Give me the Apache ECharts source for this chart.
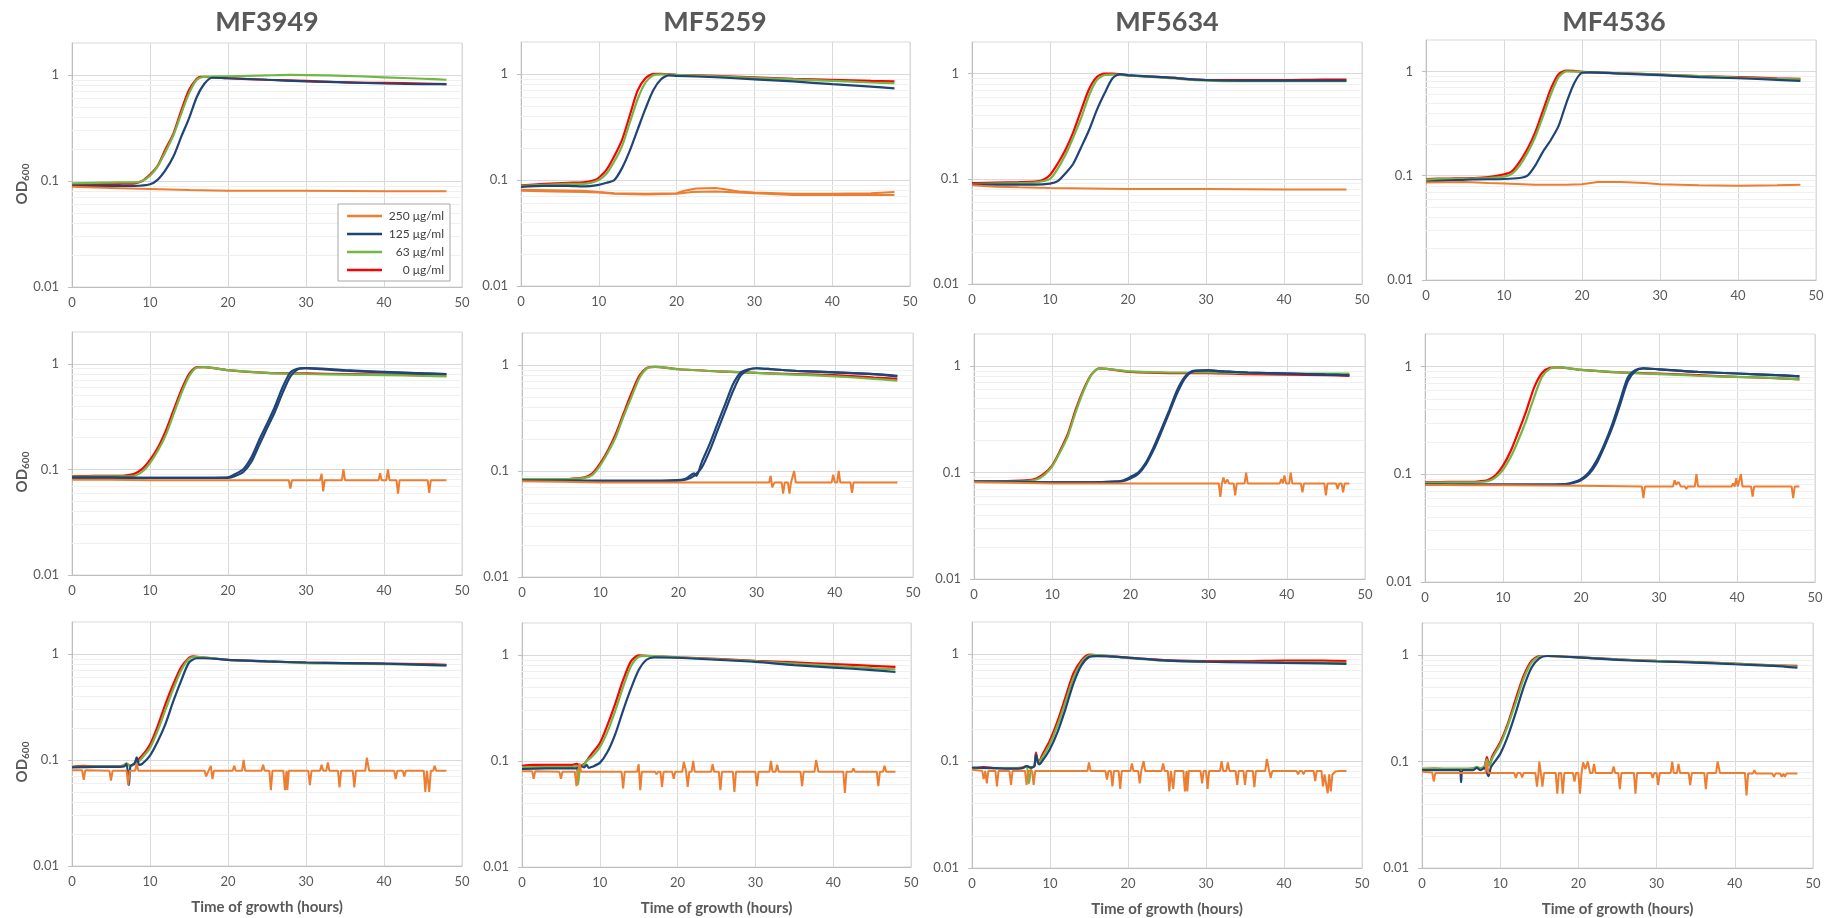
<!DOCTYPE html>
<html>
<head>
<meta charset="utf-8">
<script src="https://cdn.jsdelivr.net/npm/echarts@6/dist/echarts.min.js"></script>
<style>
html,body{margin:0;padding:0;background:#fff;}
#chart{width:1832px;height:918px;}
</style>
</head>
<body>
<div id="chart"></div>
<script>
// ---------------- labels / ticks ----------------
const strains = ['MF3949', 'MF5259', 'MF5634', 'MF4536'];
const concLabels = ['250 μg/ml', '125 μg/ml', ' 63 μg/ml', '  0 μg/ml'];
const xTicks = [0, 10, 20, 30, 40, 50];
const yTicks = [0.01, 0.1, 1];
const yMinorGrid = [0.02,0.03,0.04,0.05,0.06,0.07,0.08,0.09,0.2,0.3,0.4,0.5,0.6,0.7,0.8,0.9];
const xTitle = 'Time of growth (hours)';

// ---------------- row 1 ----------------
const mf3949_a_0   = [[0,0.093],[3,0.093],[6,0.094],[8,0.095],[9,0.1],[10,0.115],[11,0.14],[12,0.2],[13,0.28],[14,0.46],[15,0.72],[16,0.92],[16.5,0.96],[17,0.96],[20,0.93],[25,0.9],[30,0.88],[35,0.85],[40,0.84],[45,0.83],[48,0.82]];
const mf3949_a_63  = [[0,0.095],[3,0.096],[6,0.097],[8,0.097],[9,0.1],[10,0.112],[11,0.138],[12,0.19],[13,0.27],[14,0.43],[15,0.67],[16,0.9],[17,0.96],[20,0.97],[25,0.99],[28,1.0],[35,0.98],[40,0.95],[45,0.92],[48,0.9]];
const mf3949_a_125 = [[0,0.09],[3,0.09],[6,0.09],[8,0.09],[10,0.093],[11,0.103],[12,0.127],[13,0.17],[14,0.26],[15,0.39],[16,0.62],[17,0.83],[18,0.94],[20,0.93],[25,0.9],[30,0.87],[35,0.85],[40,0.83],[45,0.82],[48,0.82]];
const mf3949_a_250 = [[0,0.088],[5,0.086],[10,0.084],[15,0.082],[20,0.081],[30,0.081],[40,0.08],[48,0.08]];

const mf5259_a_0   = [[0,0.089],[3,0.092],[6,0.094],[8,0.095],[9.5,0.1],[10,0.105],[11,0.125],[12,0.168],[13,0.24],[14,0.41],[15,0.7],[16,0.91],[17,1.0],[18,1.0],[20,0.98],[25,0.96],[30,0.93],[35,0.9],[40,0.88],[45,0.86],[48,0.85]];
const mf5259_a_63  = [[0,0.088],[3,0.09],[6,0.092],[8,0.092],[10,0.1],[11,0.115],[12,0.15],[13,0.21],[14,0.35],[15,0.58],[16,0.83],[17,0.97],[18,0.99],[20,0.98],[25,0.95],[30,0.92],[35,0.89],[40,0.86],[45,0.83],[48,0.82]];
const mf5259_a_125 = [[0,0.086],[3,0.088],[6,0.088],[8,0.087],[10,0.09],[11,0.094],[12,0.1],[13,0.13],[14,0.19],[15,0.3],[16,0.47],[17,0.7],[18,0.89],[19,0.97],[20,0.96],[25,0.93],[30,0.89],[35,0.85],[40,0.8],[45,0.76],[48,0.73]];
const mf5259_a_250 = [[0,0.081],[4,0.08],[8,0.079],[10,0.077],[12,0.075],[16,0.074],[20,0.075],[21,0.079],[22.5,0.083],[25,0.084],[26,0.082],[28,0.078],[30,0.076],[35,0.074],[40,0.074],[45,0.075],[48,0.077]];
const mf5259_a_250b= [[0,0.079],[4,0.078],[8,0.077],[10,0.076],[12,0.074],[16,0.073],[20,0.074],[22,0.077],[25,0.078],[28,0.076],[30,0.075],[35,0.072],[40,0.072],[45,0.072],[48,0.072]];

const mf5634_a_0   = [[0,0.091],[3,0.092],[6,0.093],[8,0.094],[9,0.097],[10,0.109],[11,0.14],[12,0.19],[13,0.28],[14,0.45],[15,0.71],[16,0.93],[17,1.0],[18,1.0],[20,0.96],[25,0.92],[30,0.87],[35,0.87],[40,0.87],[45,0.88],[48,0.88]];
const mf5634_a_63  = [[0,0.089],[3,0.09],[6,0.091],[8,0.092],[10,0.1],[11,0.125],[12,0.17],[13,0.25],[14,0.38],[15,0.62],[16,0.87],[17,0.97],[18,0.98],[20,0.96],[25,0.91],[30,0.86],[35,0.85],[40,0.85],[45,0.85],[48,0.85]];
const mf5634_a_125 = [[0,0.088],[3,0.088],[6,0.088],[8,0.088],[10,0.09],[11,0.095],[12,0.113],[13,0.14],[14,0.2],[15,0.29],[16,0.45],[17,0.65],[18,0.9],[19,0.99],[20,0.97],[25,0.92],[30,0.87],[35,0.86],[40,0.86],[45,0.86],[48,0.86]];
const mf5634_a_250 = [[0,0.087],[3,0.084],[6,0.083],[10,0.082],[15,0.081],[20,0.08],[30,0.08],[40,0.079],[48,0.079]];

const mf4536_a_0   = [[0,0.093],[3,0.094],[6,0.095],[8,0.097],[10,0.103],[11,0.11],[12,0.136],[13,0.18],[14,0.26],[15,0.42],[16,0.68],[17,0.94],[18,1.02],[19,1.01],[20,0.99],[25,0.96],[30,0.93],[35,0.9],[40,0.88],[45,0.86],[48,0.85]];
const mf4536_a_63  = [[0,0.092],[3,0.093],[6,0.094],[8,0.095],[10,0.098],[11,0.104],[12,0.125],[13,0.165],[14,0.235],[15,0.37],[16,0.6],[17,0.88],[18,1.0],[20,0.99],[25,0.96],[30,0.93],[35,0.9],[40,0.87],[45,0.85],[48,0.84]];
const mf4536_a_125 = [[0,0.088],[3,0.09],[6,0.092],[10,0.093],[12,0.095],[13,0.1],[14,0.125],[15,0.17],[16,0.22],[17,0.3],[18,0.5],[19,0.77],[20,0.97],[21,0.98],[25,0.95],[30,0.92],[35,0.88],[40,0.86],[45,0.83],[48,0.81]];
const mf4536_a_250 = [[0,0.086],[5,0.087],[8,0.085],[10,0.084],[14,0.082],[18,0.082],[20,0.083],[22,0.087],[25,0.087],[28,0.085],[30,0.083],[35,0.081],[40,0.08],[45,0.081],[48,0.082]];

// ---------------- row 2 ----------------
const mf3949_b_0   = [[0,0.086],[3,0.087],[6,0.087],[7,0.088],[8,0.091],[9,0.101],[10,0.123],[11,0.16],[12,0.23],[13,0.36],[14,0.56],[15,0.8],[16,0.93],[17,0.93],[20,0.87],[25,0.82],[30,0.81],[35,0.8],[40,0.79],[45,0.78],[48,0.77]];
const mf3949_b_63  = [[0,0.085],[3,0.086],[6,0.086],[8,0.087],[9,0.095],[10,0.115],[11,0.15],[12,0.21],[13,0.33],[14,0.52],[15,0.76],[16,0.92],[17,0.93],[20,0.87],[25,0.82],[30,0.8],[35,0.79],[40,0.78],[45,0.77],[48,0.76]];
const mf3949_b_125 = [[0,0.084],[5,0.084],[10,0.083],[15,0.083],[20,0.084],[21,0.091],[22,0.101],[23,0.13],[24,0.19],[25,0.27],[26,0.39],[27,0.6],[28,0.83],[29,0.9],[30,0.91],[32,0.89],[35,0.86],[40,0.83],[45,0.81],[48,0.8]];
const mf3949_b_125b= [[0,0.083],[5,0.083],[10,0.083],[15,0.083],[20,0.083],[21,0.087],[22,0.095],[23,0.118],[24,0.17],[25,0.245],[26,0.35],[27,0.53],[28,0.76],[29,0.89],[30,0.91],[32,0.9],[35,0.87],[40,0.84],[45,0.81],[48,0.8]];
const mf3949_b_250 = [[0,0.08],[5,0.08],[10,0.079],[20,0.079],[27.8,0.079],[28,0.066],[28.2,0.079],[31.8,0.079],[32,0.091],[32.2,0.062],[32.4,0.079],[34.6,0.079],[34.8,0.1],[35,0.079],[39.3,0.079],[39.5,0.092],[39.7,0.079],[40.3,0.079],[40.5,0.1],[40.7,0.079],[41.6,0.079],[41.8,0.059],[42,0.079],[45.6,0.079],[45.8,0.06],[46,0.079],[48,0.079]];

const mf5259_b_0   = [[0,0.083],[3,0.083],[6,0.084],[7,0.085],[8,0.087],[9,0.095],[10,0.118],[11,0.157],[12,0.225],[13,0.35],[14,0.54],[15,0.79],[16,0.94],[17,0.96],[20,0.91],[25,0.87],[30,0.84],[35,0.82],[40,0.8],[45,0.76],[48,0.74]];
const mf5259_b_63  = [[0,0.084],[3,0.084],[6,0.084],[8,0.086],[9,0.092],[10,0.113],[11,0.15],[12,0.21],[13,0.33],[14,0.5],[15,0.75],[16,0.93],[17,0.96],[20,0.91],[25,0.87],[30,0.84],[35,0.81],[40,0.78],[45,0.74],[48,0.71]];
const mf5259_b_125 = [[0,0.081],[5,0.081],[10,0.081],[15,0.081],[20,0.082],[21,0.085],[22,0.095],[22.3,0.09],[23,0.122],[24,0.18],[25,0.28],[26,0.43],[27,0.66],[28,0.85],[29,0.91],[30,0.93],[32,0.91],[35,0.88],[40,0.85],[45,0.82],[48,0.78]];
const mf5259_b_125b= [[0,0.081],[5,0.081],[10,0.08],[15,0.08],[20,0.081],[21,0.083],[22,0.09],[23,0.108],[24,0.155],[25,0.24],[26,0.37],[27,0.57],[28,0.8],[29,0.9],[30,0.93],[32,0.91],[35,0.88],[40,0.85],[45,0.82],[48,0.79]];
const mf5259_b_250 = [[0,0.08],[5,0.079],[10,0.078],[20,0.078],[31.6,0.078],[31.8,0.09],[32,0.07],[32.3,0.078],[33.2,0.078],[33.4,0.061],[33.6,0.078],[34,0.078],[34.2,0.061],[34.4,0.078],[34.6,0.078],[34.8,0.1],[35,0.078],[39.6,0.078],[39.8,0.092],[40,0.078],[40.3,0.078],[40.5,0.1],[40.7,0.078],[42,0.078],[42.2,0.062],[42.4,0.078],[48,0.078]];

const mf5634_b_0   = [[0,0.083],[3,0.083],[6,0.084],[7,0.085],[8,0.088],[9,0.098],[10,0.117],[11,0.16],[12,0.23],[13,0.39],[14,0.6],[15,0.83],[16,0.95],[17,0.94],[20,0.88],[25,0.86],[30,0.86],[35,0.84],[40,0.83],[45,0.82],[48,0.81]];
const mf5634_b_63  = [[0,0.083],[3,0.083],[6,0.083],[8,0.086],[9,0.095],[10,0.114],[11,0.155],[12,0.22],[13,0.37],[14,0.58],[15,0.82],[16,0.95],[17,0.94],[20,0.89],[25,0.87],[30,0.87],[35,0.86],[40,0.85],[45,0.85],[48,0.85]];
const mf5634_b_125 = [[0,0.082],[5,0.082],[10,0.081],[15,0.081],[18,0.082],[19,0.084],[20,0.091],[21,0.1],[22,0.125],[23,0.175],[24,0.26],[25,0.39],[26,0.6],[27,0.8],[28,0.9],[30,0.91],[32,0.89],[35,0.87],[40,0.85],[45,0.83],[48,0.82]];
const mf5634_b_125b= [[0,0.082],[5,0.082],[10,0.081],[15,0.081],[18,0.082],[19,0.083],[20,0.088],[21,0.097],[22,0.12],[23,0.165],[24,0.245],[25,0.37],[26,0.56],[27,0.77],[28,0.89],[30,0.91],[32,0.89],[35,0.87],[40,0.85],[45,0.83],[48,0.82]];
const mf5634_b_250 = [[0,0.081],[5,0.08],[10,0.079],[20,0.079],[31.3,0.079],[31.5,0.059],[31.7,0.079],[31.9,0.09],[32.1,0.079],[32.4,0.086],[32.6,0.079],[33.2,0.079],[33.4,0.061],[33.6,0.079],[34.6,0.079],[34.8,0.1],[35,0.079],[39.1,0.079],[39.3,0.087],[39.5,0.079],[39.7,0.094],[39.9,0.079],[40.3,0.079],[40.5,0.1],[40.7,0.079],[41.8,0.079],[42,0.065],[42.2,0.079],[44.8,0.079],[45,0.061],[45.2,0.079],[46.3,0.079],[46.5,0.07],[46.7,0.079],[47,0.079],[47.2,0.065],[47.4,0.079],[48,0.079]];

const mf4536_b_0   = [[0,0.084],[3,0.085],[6,0.085],[7,0.086],[8,0.088],[9,0.097],[10,0.12],[11,0.165],[12,0.25],[13,0.39],[14,0.64],[15,0.87],[16,0.97],[17,0.98],[20,0.93],[25,0.88],[30,0.86],[35,0.83],[40,0.8],[45,0.78],[48,0.76]];
const mf4536_b_63  = [[0,0.083],[3,0.084],[6,0.084],[8,0.086],[9,0.093],[10,0.11],[11,0.145],[12,0.21],[13,0.32],[14,0.52],[15,0.8],[16,0.95],[17,0.98],[20,0.93],[25,0.88],[30,0.85],[35,0.82],[40,0.8],[45,0.78],[48,0.76]];
const mf4536_b_125 = [[0,0.081],[5,0.08],[10,0.08],[15,0.08],[18,0.081],[19,0.084],[20,0.09],[21,0.104],[22,0.134],[23,0.19],[24,0.29],[25,0.48],[26,0.79],[27,0.93],[28,0.96],[30,0.94],[32,0.92],[35,0.89],[40,0.86],[45,0.83],[48,0.81]];
const mf4536_b_125b= [[0,0.081],[5,0.08],[10,0.08],[15,0.08],[18,0.081],[19,0.083],[20,0.088],[21,0.1],[22,0.126],[23,0.18],[24,0.27],[25,0.44],[26,0.73],[27,0.91],[28,0.96],[30,0.94],[32,0.92],[35,0.89],[40,0.86],[45,0.83],[48,0.81]];
const mf4536_b_250 = [[0,0.08],[5,0.079],[10,0.079],[20,0.078],[27.8,0.077],[28,0.06],[28.2,0.077],[31.8,0.077],[32,0.088],[32.2,0.08],[32.5,0.085],[32.8,0.077],[33.3,0.077],[33.5,0.073],[33.7,0.077],[34.6,0.077],[34.8,0.1],[35,0.077],[39.3,0.077],[39.5,0.082],[39.7,0.077],[39.9,0.092],[40.1,0.077],[40.3,0.077],[40.5,0.1],[40.7,0.077],[41.8,0.077],[42,0.062],[42.2,0.077],[47,0.077],[47.2,0.06],[47.4,0.077],[48,0.077]];

// ---------------- row 3 ----------------
const mf3949_c_0   = [[0,0.086],[1.5,0.088],[3,0.087],[5,0.087],[6.5,0.088],[7,0.092],[7.5,0.088],[8,0.093],[9,0.11],[10,0.14],[11,0.21],[12,0.34],[13,0.52],[14,0.75],[15,0.92],[15.5,0.95],[16,0.94],[20,0.88],[25,0.85],[30,0.83],[35,0.82],[40,0.81],[45,0.8],[48,0.79]];
const mf3949_c_63  = [[0,0.086],[3,0.087],[5,0.087],[6.5,0.088],[7,0.093],[7.5,0.087],[8,0.092],[8.5,0.096],[9,0.105],[10,0.13],[11,0.19],[12,0.3],[13,0.47],[14,0.7],[15,0.9],[16,0.94],[20,0.88],[25,0.85],[30,0.82],[35,0.81],[40,0.8],[45,0.79],[48,0.78]];
const mf3949_c_125 = [[0,0.085],[3,0.086],[5,0.086],[6.7,0.087],[7,0.092],[7.3,0.058],[7.5,0.088],[8,0.092],[8.3,0.106],[8.6,0.09],[9,0.092],[10,0.11],[11,0.15],[12,0.22],[13,0.36],[14,0.56],[15,0.83],[16,0.91],[17,0.91],[20,0.88],[25,0.85],[30,0.83],[35,0.82],[40,0.81],[45,0.79],[48,0.78]];
const mf3949_c_250 = [[0,0.08],[1.3,0.08],[1.5,0.065],[1.7,0.08],[4.8,0.079],[5,0.064],[5.2,0.079],[7,0.079],[7.2,0.058],[7.4,0.079],[8.1,0.079],[8.3,0.093],[8.5,0.079],[17,0.079],[17.2,0.07],[17.5,0.079],[17.8,0.088],[18,0.066],[18.2,0.079],[20.6,0.079],[20.8,0.088],[21,0.079],[21.8,0.079],[22,0.1],[22.2,0.079],[24.3,0.079],[24.5,0.09],[24.7,0.079],[25.3,0.079],[25.5,0.052],[25.7,0.079],[27.1,0.079],[27.3,0.052],[27.5,0.079],[27.6,0.052],[27.8,0.079],[30.3,0.079],[30.5,0.058],[30.7,0.079],[31.8,0.079],[32,0.09],[32.2,0.079],[32.6,0.079],[32.8,0.095],[33,0.079],[34.1,0.079],[34.3,0.055],[34.5,0.079],[36,0.079],[36.2,0.055],[36.4,0.079],[37.6,0.079],[37.8,0.105],[38.1,0.079],[41.3,0.079],[41.5,0.066],[41.7,0.079],[42.4,0.079],[42.6,0.07],[42.8,0.079],[45.1,0.079],[45.3,0.05],[45.5,0.079],[45.6,0.079],[45.8,0.05],[46,0.079],[46.3,0.079],[46.5,0.088],[46.7,0.079],[48,0.079]];

const mf5259_c_0   = [[0,0.09],[1.5,0.092],[3,0.092],[5,0.092],[6.5,0.092],[7,0.094],[7.5,0.09],[8,0.094],[8.3,0.1],[9,0.118],[10,0.147],[11,0.22],[12,0.35],[13,0.58],[14,0.87],[15,0.99],[16,0.98],[20,0.95],[25,0.92],[30,0.88],[35,0.85],[40,0.82],[45,0.79],[48,0.77]];
const mf5259_c_63  = [[0,0.087],[3,0.088],[5,0.088],[6.5,0.088],[7,0.09],[7.2,0.06],[7.5,0.088],[8,0.092],[8.3,0.1],[9,0.11],[10,0.135],[11,0.19],[12,0.3],[13,0.5],[14,0.78],[15,0.96],[16,0.98],[20,0.95],[25,0.91],[30,0.87],[35,0.83],[40,0.79],[45,0.75],[48,0.73]];
const mf5259_c_125 = [[0,0.084],[3,0.085],[5,0.085],[7,0.085],[7.5,0.09],[8,0.087],[8.3,0.092],[8.6,0.086],[9,0.088],[10,0.096],[11,0.122],[12,0.18],[13,0.3],[14,0.48],[15,0.72],[16,0.9],[17,0.95],[20,0.94],[25,0.9],[30,0.86],[35,0.8],[40,0.76],[45,0.72],[48,0.69]];
const mf5259_c_250 = [[0,0.08],[1.3,0.08],[1.5,0.068],[1.7,0.08],[4.8,0.079],[5,0.068],[5.2,0.079],[6.8,0.079],[7,0.058],[7.2,0.079],[7.4,0.095],[7.6,0.079],[12.8,0.079],[13,0.055],[13.2,0.079],[14.8,0.079],[15,0.093],[15.2,0.053],[15.4,0.079],[17.1,0.079],[17.3,0.075],[17.5,0.079],[17.8,0.079],[18,0.057],[18.2,0.079],[19.3,0.079],[19.5,0.068],[19.7,0.079],[20.6,0.079],[20.8,0.098],[21.1,0.079],[21.3,0.057],[21.5,0.079],[21.8,0.079],[22,0.1],[22.2,0.079],[24.3,0.079],[24.5,0.093],[24.7,0.079],[25.3,0.079],[25.5,0.053],[25.7,0.079],[27.1,0.079],[27.3,0.051],[27.5,0.079],[30,0.079],[30.2,0.058],[30.4,0.079],[31.8,0.079],[32,0.1],[32.2,0.079],[32.6,0.079],[32.8,0.092],[33,0.079],[35.8,0.079],[36,0.058],[36.2,0.079],[37.6,0.079],[37.8,0.102],[38.1,0.079],[41.3,0.079],[41.5,0.05],[41.7,0.079],[42.4,0.079],[42.6,0.085],[42.8,0.079],[45.6,0.079],[45.8,0.058],[46,0.079],[46.4,0.079],[46.6,0.09],[46.8,0.079],[48,0.079]];

const mf5634_c_0   = [[0,0.085],[1.5,0.088],[3,0.086],[5,0.086],[6.5,0.087],[7,0.09],[7.5,0.087],[8,0.09],[8.2,0.12],[8.5,0.095],[9,0.114],[10,0.157],[11,0.24],[12,0.4],[13,0.66],[14,0.87],[15,0.99],[16,0.98],[20,0.93],[25,0.88],[30,0.86],[35,0.86],[40,0.87],[45,0.87],[48,0.86]];
const mf5634_c_63  = [[0,0.086],[3,0.086],[5,0.086],[6.5,0.086],[7,0.09],[7.3,0.062],[7.6,0.087],[8,0.09],[8.2,0.115],[8.5,0.094],[9,0.108],[10,0.145],[11,0.22],[12,0.36],[13,0.6],[14,0.83],[15,0.97],[16,0.98],[20,0.92],[25,0.87],[30,0.85],[35,0.85],[40,0.84],[45,0.84],[48,0.83]];
const mf5634_c_125 = [[0,0.087],[3,0.086],[5,0.085],[6.5,0.086],[7,0.09],[7.5,0.087],[8,0.09],[8.2,0.115],[8.6,0.093],[9,0.1],[10,0.13],[11,0.19],[12,0.31],[13,0.53],[14,0.78],[15,0.94],[16,0.96],[20,0.93],[25,0.87],[30,0.85],[35,0.84],[40,0.83],[45,0.82],[48,0.81]];
const mf5634_c_250 = [[0,0.083],[1.3,0.081],[1.5,0.068],[1.7,0.081],[1.9,0.062],[2.1,0.081],[3,0.081],[3.2,0.058],[3.4,0.081],[4.8,0.081],[5,0.06],[5.2,0.081],[6.8,0.081],[7,0.06],[7.2,0.081],[7.7,0.081],[7.9,0.06],[8.1,0.081],[14.8,0.081],[15,0.097],[15.2,0.081],[17.1,0.081],[17.3,0.067],[17.5,0.081],[17.8,0.081],[18,0.058],[18.2,0.081],[18.8,0.081],[19,0.055],[19.2,0.081],[20.3,0.081],[20.5,0.095],[20.7,0.081],[21.3,0.081],[21.5,0.062],[21.7,0.081],[21.8,0.081],[22,0.1],[22.2,0.081],[24.3,0.081],[24.5,0.095],[24.7,0.081],[25.1,0.081],[25.3,0.052],[25.5,0.081],[25.6,0.081],[25.8,0.055],[26,0.081],[27.1,0.081],[27.3,0.052],[27.5,0.081],[27.6,0.052],[27.8,0.081],[29.3,0.081],[29.5,0.062],[29.7,0.081],[30,0.081],[30.2,0.055],[30.4,0.081],[31.8,0.081],[32,0.1],[32.2,0.081],[32.6,0.081],[32.8,0.097],[33,0.081],[33.8,0.081],[34,0.06],[34.2,0.081],[34.8,0.081],[35,0.06],[35.2,0.081],[36,0.081],[36.2,0.057],[36.4,0.081],[37.6,0.081],[37.8,0.105],[38.1,0.081],[38.3,0.07],[38.5,0.081],[41.6,0.081],[41.8,0.075],[42,0.081],[42.3,0.081],[42.5,0.075],[42.7,0.081],[43.8,0.081],[44,0.065],[44.2,0.081],[44.8,0.081],[45,0.058],[45.2,0.075],[45.6,0.05],[45.8,0.075],[46,0.052],[46.2,0.075],[46.6,0.08],[47,0.081],[48,0.081]];

const mf4536_c_0   = [[0,0.085],[1.5,0.086],[3,0.085],[5,0.085],[6.5,0.086],[7,0.088],[7.5,0.086],[8,0.09],[8.3,0.11],[8.6,0.092],[9,0.113],[10,0.152],[11,0.23],[12,0.39],[13,0.64],[14,0.88],[15,0.98],[16,0.98],[20,0.95],[25,0.91],[30,0.88],[35,0.86],[40,0.83],[45,0.8],[48,0.79]];
const mf4536_c_63  = [[0,0.086],[3,0.086],[5,0.086],[6.5,0.086],[7,0.089],[7.5,0.086],[8,0.09],[8.3,0.105],[8.6,0.092],[9,0.108],[10,0.145],[11,0.22],[12,0.36],[13,0.6],[14,0.85],[15,0.97],[16,0.98],[20,0.95],[25,0.91],[30,0.88],[35,0.86],[40,0.83],[45,0.8],[48,0.78]];
const mf4536_c_125 = [[0,0.083],[3,0.083],[4.8,0.083],[5,0.064],[5.2,0.083],[6.5,0.083],[7,0.087],[7.5,0.083],[8,0.087],[8.5,0.073],[8.8,0.088],[9,0.093],[10,0.118],[11,0.175],[12,0.29],[13,0.5],[14,0.76],[15,0.93],[16,0.98],[20,0.95],[25,0.9],[30,0.87],[35,0.85],[40,0.82],[45,0.79],[48,0.76]];
const mf4536_c_250 = [[0,0.08],[1.3,0.079],[1.5,0.065],[1.7,0.078],[8.1,0.078],[8.3,0.1],[8.5,0.078],[11.8,0.078],[12,0.07],[12.2,0.078],[12.6,0.078],[12.8,0.071],[13,0.078],[14.5,0.078],[14.7,0.058],[14.9,0.078],[15,0.1],[15.2,0.078],[15.4,0.058],[15.6,0.078],[17.1,0.078],[17.3,0.05],[17.5,0.078],[17.8,0.078],[18,0.05],[18.2,0.078],[19.3,0.078],[19.5,0.065],[19.7,0.078],[20,0.078],[20.2,0.05],[20.4,0.078],[20.6,0.098],[20.9,0.085],[21.2,0.1],[21.5,0.078],[21.8,0.078],[22,0.095],[22.2,0.078],[24.3,0.078],[24.5,0.09],[24.7,0.078],[25.1,0.078],[25.3,0.055],[25.5,0.078],[27.1,0.078],[27.3,0.05],[27.5,0.078],[29.3,0.078],[29.5,0.07],[29.7,0.078],[30,0.078],[30.2,0.06],[30.4,0.078],[31.8,0.078],[32,0.1],[32.2,0.078],[32.6,0.078],[32.8,0.095],[33,0.078],[34.1,0.078],[34.3,0.06],[34.5,0.078],[36.1,0.078],[36.3,0.055],[36.5,0.078],[37.6,0.078],[37.8,0.1],[38.1,0.078],[41.3,0.078],[41.5,0.048],[41.7,0.077],[42.3,0.077],[42.5,0.083],[42.7,0.077],[44.8,0.077],[45,0.072],[45.2,0.077],[45.8,0.077],[46,0.072],[46.2,0.077],[46.4,0.072],[46.6,0.077],[48,0.077]];

// ---------------- panel table (built from the arrays) ----------------
const panels = [
  [
    {c0:[mf3949_a_0], c63:[mf3949_a_63], c125:[mf3949_a_125], c250:[mf3949_a_250]},
    {c0:[mf5259_a_0], c63:[mf5259_a_63], c125:[mf5259_a_125], c250:[mf5259_a_250, mf5259_a_250b]},
    {c0:[mf5634_a_0], c63:[mf5634_a_63], c125:[mf5634_a_125], c250:[mf5634_a_250]},
    {c0:[mf4536_a_0], c63:[mf4536_a_63], c125:[mf4536_a_125], c250:[mf4536_a_250]}
  ],
  [
    {c0:[mf3949_b_0], c63:[mf3949_b_63], c125:[mf3949_b_125, mf3949_b_125b], c250:[mf3949_b_250]},
    {c0:[mf5259_b_0], c63:[mf5259_b_63], c125:[mf5259_b_125, mf5259_b_125b], c250:[mf5259_b_250]},
    {c0:[mf5634_b_0], c63:[mf5634_b_63], c125:[mf5634_b_125, mf5634_b_125b], c250:[mf5634_b_250]},
    {c0:[mf4536_b_0], c63:[mf4536_b_63], c125:[mf4536_b_125, mf4536_b_125b], c250:[mf4536_b_250]}
  ],
  [
    {c0:[mf3949_c_0], c63:[mf3949_c_63], c125:[mf3949_c_125], c250:[mf3949_c_250]},
    {c0:[mf5259_c_0], c63:[mf5259_c_63], c125:[mf5259_c_125], c250:[mf5259_c_250]},
    {c0:[mf5634_c_0], c63:[mf5634_c_63], c125:[mf5634_c_125], c250:[mf5634_c_250]},
    {c0:[mf4536_c_0], c63:[mf4536_c_63], c125:[mf4536_c_125], c250:[mf4536_c_250]}
  ]
];

// ---------------- layout & style ----------------
const gridBoxes = [
  [[72,43,390,244],[521,42,389,244],[972,42,390,242],[1426,40,390,240]],
  [[72,332,390,243],[522,333,391,244],[974,334,391,245],[1425,334,390,248]],
  [[72,622,390,244],[522,623,389,244],[972,622,390,246],[1422,623,391,247]]
];
const titleCenters = [267, 715, 1167, 1614];
const odLabelY = [184, 472, 762];
const FONT = 'Lato, "Open Sans", "DejaVu Sans", sans-serif';
const TXT = '#595959';
const colors = {c250:'#ED7D31', c125:'#1F4477', c63:'#72B743', c0:'#FF0000'};
const seriesNames = {c250:concLabels[0], c125:concLabels[1], c63:concLabels[2], c0:concLabels[3]};
const drawOrder = ['c0','c63','c125','c250'];

const grids = [], xAxes = [], yAxes = [], series = [];
gridBoxes.forEach((row, r) => row.forEach((b, c) => {
  const gi = r * 4 + c;
  grids.push({left:b[0], top:b[1], width:b[2], height:b[3], show:true, borderColor:'#D9D9D9', borderWidth:1, backgroundColor:'#fff'});
  const xa = {
    type:'value', gridIndex:gi, min:xTicks[0], max:xTicks[xTicks.length-1], interval:10,
    axisLine:{show:true, onZero:false, lineStyle:{color:'#BFBFBF', width:1}},
    axisTick:{show:false},
    axisLabel:{color:TXT, fontSize:13, margin:9, fontFamily:FONT},
    splitLine:{show:true, lineStyle:{color:'#D9D9D9', width:1}}
  };
  if (r === 2) {
    xa.name = xTitle; xa.nameLocation = 'middle'; xa.nameGap = 34;
    xa.nameTextStyle = {color:TXT, fontSize:15, fontWeight:'bold', fontFamily:FONT};
  }
  xAxes.push(xa);
  yAxes.push({
    type:'log', logBase:10, gridIndex:gi, min:yTicks[0], max:2,
    axisLine:{show:true, onZero:false, lineStyle:{color:'#BFBFBF', width:1}},
    axisTick:{show:true, length:4, lineStyle:{color:'#BFBFBF'}, customValues:yTicks},
    axisLabel:{color:TXT, fontSize:13, margin:13, fontFamily:FONT, customValues:yTicks,
      formatter: v => (v >= 0.99 ? '1' : (v >= 0.099 ? '0.1' : '0.01'))},
    splitLine:{show:true, lineStyle:{color:'#D9D9D9', width:1}}
  });
  // minor gridlines (under the curves)
  series.push({
    type:'line', xAxisIndex:gi, yAxisIndex:gi, data:[], silent:true, z:1,
    markLine:{silent:true, z:1, symbol:'none', animation:false, label:{show:false},
      lineStyle:{color:'#F0F0F0', type:'solid', width:1},
      data: yMinorGrid.map(v => ({yAxis:v}))}
  });
  const p = panels[r][c];
  drawOrder.forEach(k => {
    p[k].forEach(arr => {
      series.push({
        name: seriesNames[k], type:'line', xAxisIndex:gi, yAxisIndex:gi,
        data: arr, showSymbol:false, symbol:'none', animation:false, z:3,
        smooth: k === 'c250' ? false : 0.25,
        lineStyle:{color:colors[k], width: k === 'c250' ? 2 : 2.2},
        itemStyle:{color:colors[k]}
      });
    });
  });
}));

const graphics = [];
strains.forEach((s, i) => graphics.push({
  type:'text', x:titleCenters[i], y:22, silent:true,
  style:{text:s, fill:TXT, font:'bold 27px ' + FONT, textAlign:'center', textVerticalAlign:'middle', align:'center', verticalAlign:'middle'}
}));
odLabelY.forEach(y => graphics.push({
  type:'text', x:22, y:y, rotation:Math.PI/2, silent:true,
  style:{text:'{a|OD}{b|600}', fill:TXT, textAlign:'center', textVerticalAlign:'middle', align:'center', verticalAlign:'middle',
    rich:{a:{fontSize:15, fontWeight:'bold', fontFamily:FONT, fill:TXT, color:TXT, lineHeight:18},
          b:{fontSize:10, fontWeight:'bold', fontFamily:FONT, fill:TXT, color:TXT, verticalAlign:'bottom', lineHeight:14, padding:[6,0,0,0]}}}
}));

const chart = echarts.init(document.getElementById('chart'), null, {renderer:'canvas'});
chart.setOption({
  backgroundColor:'#fff',
  animation:false,
  grid:grids, xAxis:xAxes, yAxis:yAxes, series:series,
  graphic:graphics,
  legend:{
    data:concLabels, orient:'vertical', left:338, top:204,
    backgroundColor:'#fff', borderColor:'#A6A6A6', borderWidth:1, borderRadius:0,
    padding:[6,6,5,9], itemGap:6, itemWidth:35, itemHeight:2.5, icon:'rect',
    formatter: n => '{r|' + n + '}',
    textStyle:{color:'#404040', fontSize:12, fontFamily:FONT,
      rich:{r:{width:57, align:'right', fontSize:12, fontFamily:FONT, color:'#404040'}}},
    selectedMode:false
  }
});
</script>
</body>
</html>
